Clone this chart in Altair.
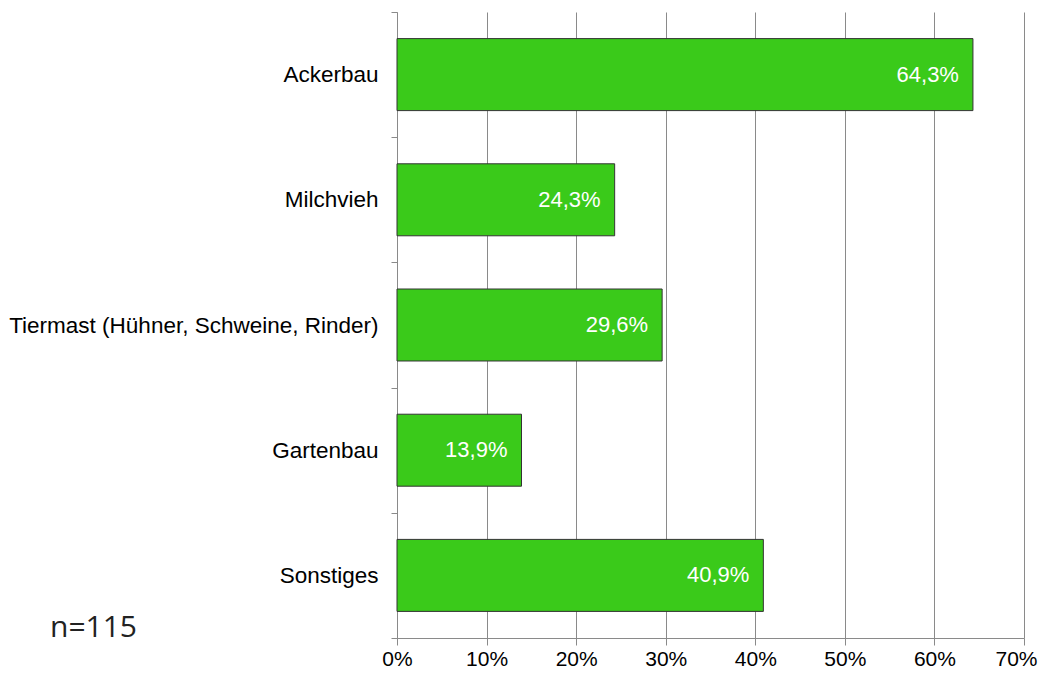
import altair as alt
import pandas as pd

categories = ["Ackerbau", "Milchvieh", "Tiermast (Hühner, Schweine, Rinder)", "Gartenbau", "Sonstiges"]
shares = [0.643, 0.243, 0.296, 0.139, 0.409]
x_ticks = [0.0, 0.1, 0.2, 0.3, 0.4, 0.5, 0.6, 0.7]
note = ["n=115"]

df = pd.DataFrame({"cat": categories, "share": shares})
df["label"] = [f"{v * 100:.1f}".replace(".", ",") + "%" for v in shares]

FONT = "Liberation Sans"
GREEN = "#3ACA1A"
GRAY = "#8a8a8a"

y_scale = alt.Scale(paddingInner=0, paddingOuter=0)
y_enc = alt.Y(
    "cat:N", sort=categories, title=None, scale=y_scale,
    axis=alt.Axis(tickBand="extent", labelFont=FONT, labelFontSize=22.5, labelColor="#000",
                  labelPadding=13, domainColor=GRAY, tickColor=GRAY, tickSize=6,
                  grid=False, labelLimit=600),
)
x_enc = alt.X(
    "share:Q", title=None, scale=alt.Scale(domain=[0, 0.7], nice=False),
    axis=alt.Axis(values=x_ticks, format=".0%", grid=True, gridColor=GRAY, gridOpacity=1,
                  domainColor=GRAY, tickColor=GRAY, tickSize=7, labelFont=FONT,
                  labelFontSize=21, labelColor="#000", labelPadding=3, labelFlush=False,
                  labelOffset=alt.condition("datum.value >= 0.69", alt.value(-8), alt.value(0))),
)

bars = alt.Chart(df).mark_bar(
    color=GREEN, stroke="#333333", strokeWidth=1, height=alt.RelativeBandSize(band=0.575)
).encode(x=x_enc, y=y_enc)
text = alt.Chart(df).mark_text(align="right", baseline="middle", dx=-14, color="white",
                               font=FONT, fontSize=22).encode(
    x="share:Q", y=alt.Y("cat:N", sort=categories), text="label:N")
note_layer = alt.Chart(pd.DataFrame({"note": note})).mark_text(
    align="left", baseline="alphabetic", font="Open Sans", fontSize=30, color="#222222"
).encode(x=alt.value(-347), y=alt.value(625), text="note:N")

chart = alt.layer(bars, text, note_layer).properties(
    width=627, height=626,
    autosize=alt.AutoSizeParams(type="none"),
    padding={"left": 389, "top": 4, "right": 15, "bottom": 30},
).configure_view(stroke=None)

chart.save("out.html", embed_options={"renderer": "svg", "actions": False})
